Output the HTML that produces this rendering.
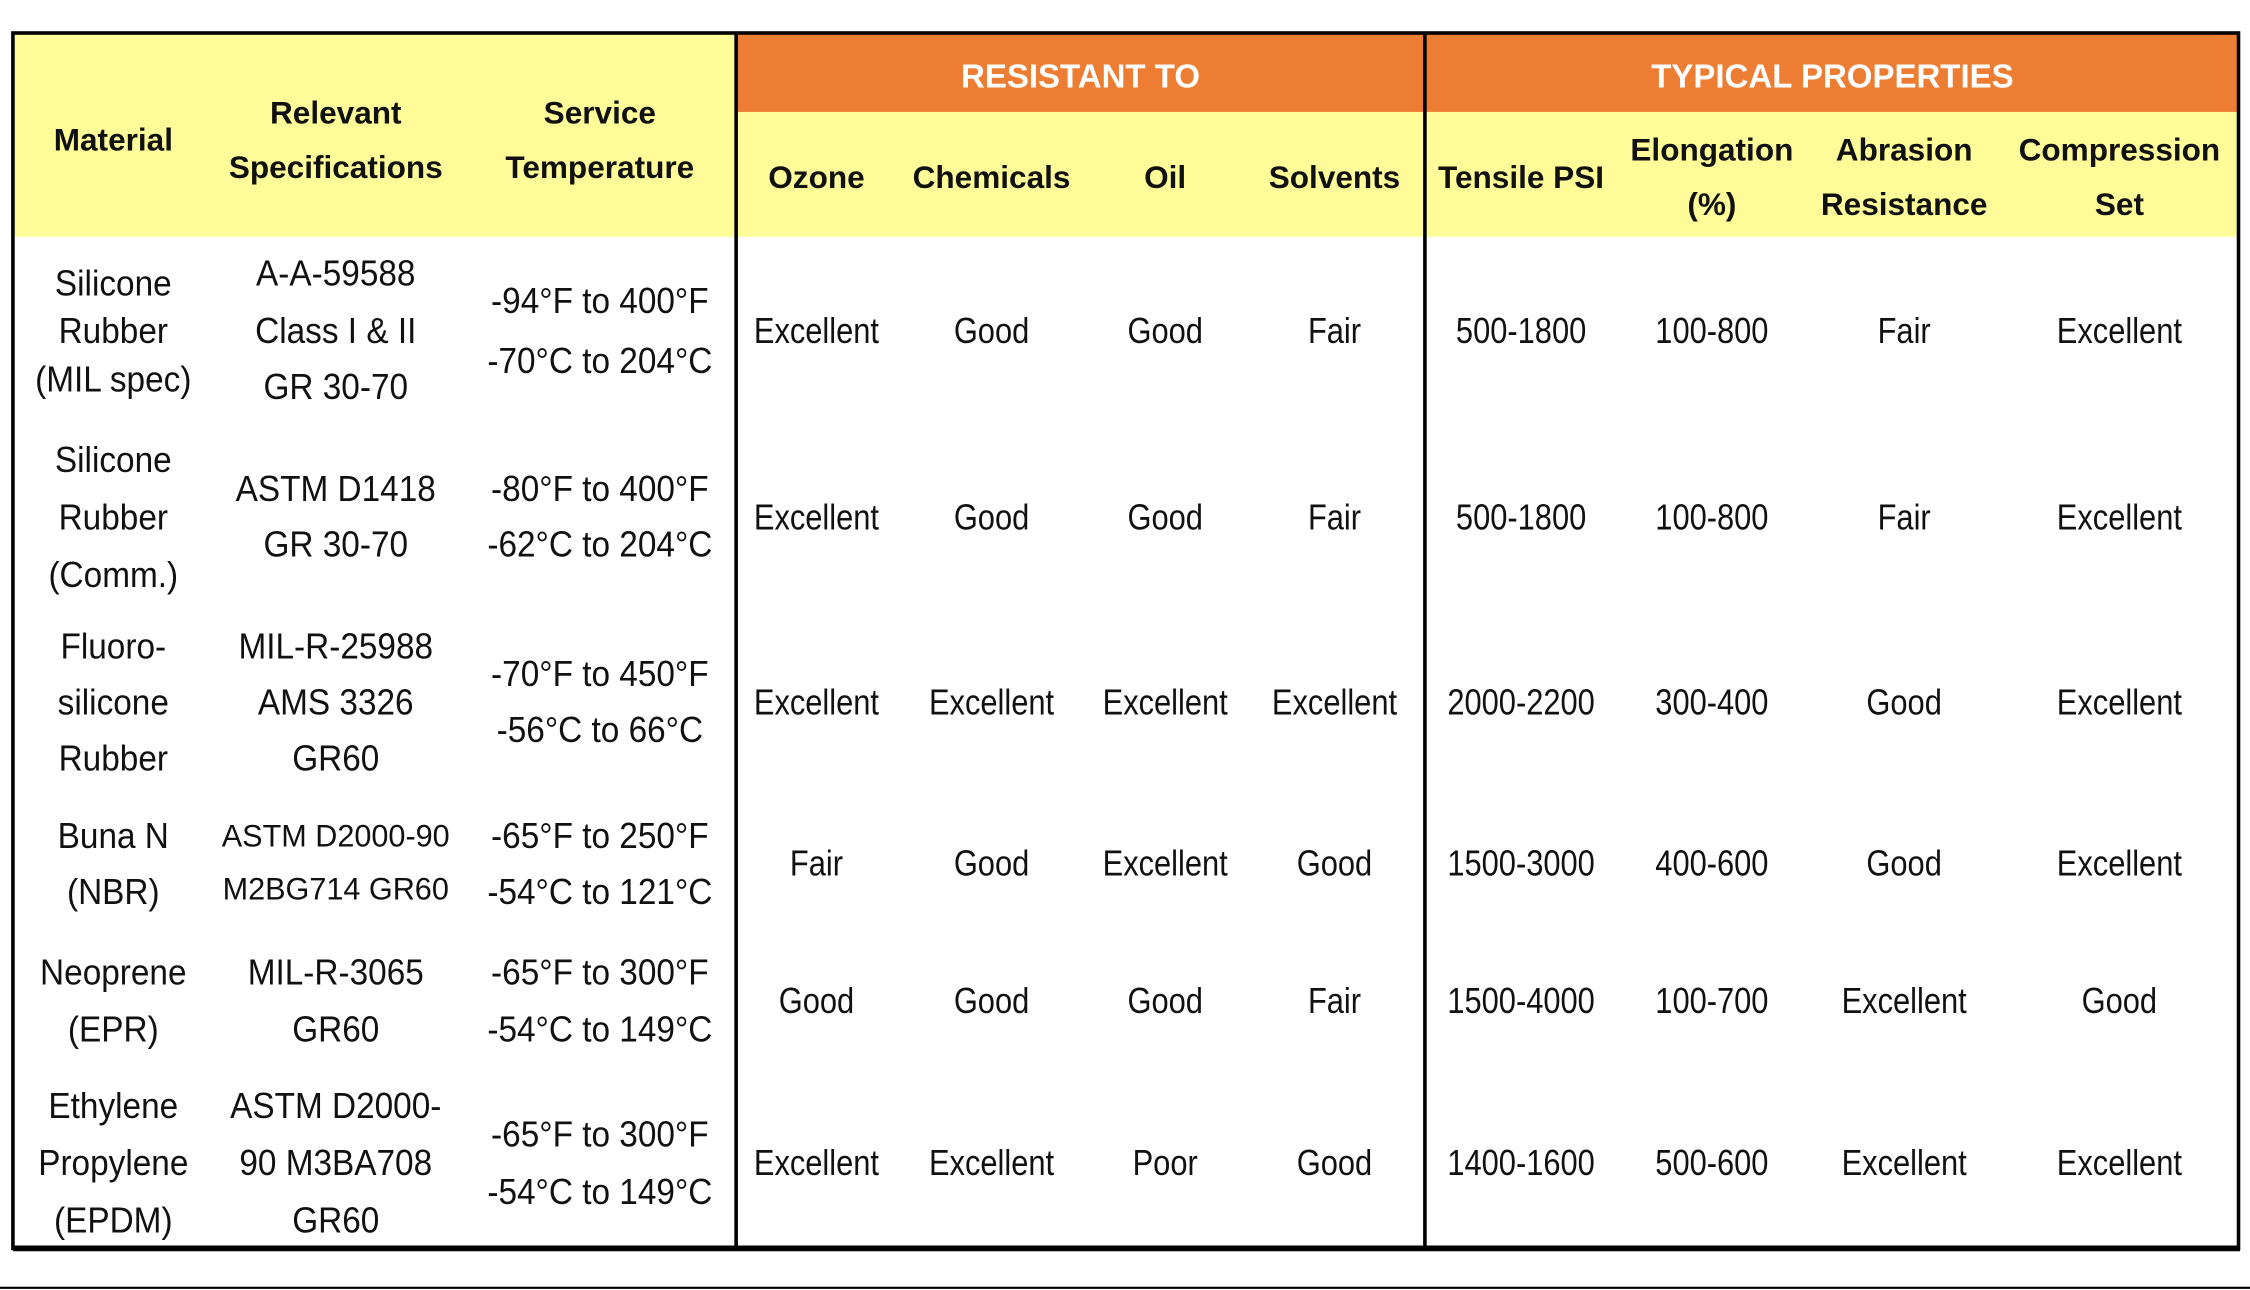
<!DOCTYPE html>
<html><head><meta charset="utf-8"><style>
html,body{margin:0;padding:0;background:#fff;}
svg{display:block;}
.h{font-family:"Liberation Sans",sans-serif;font-weight:bold;font-size:22px;fill:#111;}
.w{font-family:"Liberation Sans",sans-serif;font-weight:bold;font-size:23px;fill:#fff;}
.b{font-family:"Liberation Sans",sans-serif;font-size:25px;fill:#111;}
.s{font-family:"Liberation Sans",sans-serif;font-size:22px;fill:#111;}
</style></head><body>
<svg width="2250" height="1290" viewBox="0 0 1568 899" preserveAspectRatio="none" xmlns="http://www.w3.org/2000/svg">
<rect x="0" y="0" width="1568" height="899" fill="#fff"/>
<rect x="10" y="24" width="1550" height="141" fill="#fdfc98"/>
<rect x="514" y="24" width="479" height="54" fill="#ec7d33"/>
<rect x="994" y="24" width="566" height="54" fill="#ec7d33"/>
<rect x="9" y="23" width="1551" height="847" fill="none" stroke="#000" stroke-width="2.5"/>
<line x1="9" y1="870" x2="1561" y2="870" stroke="#000" stroke-width="4"/>
<line x1="513" y1="23" x2="513" y2="870" stroke="#000" stroke-width="2.5"/>
<line x1="993" y1="23" x2="993" y2="870" stroke="#000" stroke-width="2.5"/>
<line x1="0" y1="897.5" x2="1568" y2="897.5" stroke="#000" stroke-width="1.5"/>

<g text-anchor="middle">
<g class="w">
<text x="753" y="61">RESISTANT TO</text>
<text x="1277" y="61">TYPICAL PROPERTIES</text>
</g>
<g class="h">
<text x="79" y="105">Material</text>
<text x="234" y="86">Relevant</text>
<text x="234" y="124">Specifications</text>
<text x="418" y="86">Service</text>
<text x="418" y="124">Temperature</text>
<text x="569" y="131">Ozone</text>
<text x="691" y="131">Chemicals</text>
<text x="812" y="131">Oil</text>
<text x="930" y="131">Solvents</text>
<text x="1060" y="131">Tensile PSI</text>
<text x="1193" y="112">Elongation</text>
<text x="1193" y="150">(%)</text>
<text x="1327" y="112">Abrasion</text>
<text x="1327" y="150">Resistance</text>
<text x="1477" y="112">Compression</text>
<text x="1477" y="150">Set</text>
</g>

<g class="b" transform="scale(0.93 1)">
<text x="84.9" y="206">Silicone</text>
<text x="84.9" y="239">Rubber</text>
<text x="84.9" y="273">(MIL spec)</text>
<text x="251.6" y="199">A-A-59588</text>
<text x="251.6" y="239">Class I &amp; II</text>
<text x="251.6" y="278">GR 30-70</text>
<text x="449.5" y="218">-94°F to 400°F</text>
<text x="449.5" y="260">-70°C to 204°C</text>
<text x="84.9" y="329">Silicone</text>
<text x="84.9" y="369">Rubber</text>
<text x="84.9" y="409">(Comm.)</text>
<text x="251.6" y="349">ASTM D1418</text>
<text x="251.6" y="388">GR 30-70</text>
<text x="449.5" y="349">-80°F to 400°F</text>
<text x="449.5" y="388">-62°C to 204°C</text>
<text x="84.9" y="459">Fluoro-</text>
<text x="84.9" y="498">silicone</text>
<text x="84.9" y="537">Rubber</text>
<text x="251.6" y="459">MIL-R-25988</text>
<text x="251.6" y="498">AMS 3326</text>
<text x="251.6" y="537">GR60</text>
<text x="449.5" y="478">-70°F to 450°F</text>
<text x="449.5" y="517">-56°C to 66°C</text>
<text x="84.9" y="591">Buna N</text>
<text x="84.9" y="630">(NBR)</text>
<text x="449.5" y="591">-65°F to 250°F</text>
<text x="449.5" y="630">-54°C to 121°C</text>
<text x="84.9" y="686">Neoprene</text>
<text x="84.9" y="726">(EPR)</text>
<text x="251.6" y="686">MIL-R-3065</text>
<text x="251.6" y="726">GR60</text>
<text x="449.5" y="686">-65°F to 300°F</text>
<text x="449.5" y="726">-54°C to 149°C</text>
<text x="84.9" y="779">Ethylene</text>
<text x="84.9" y="819">Propylene</text>
<text x="84.9" y="859">(EPDM)</text>
<text x="251.6" y="779">ASTM D2000-</text>
<text x="251.6" y="819">90 M3BA708</text>
<text x="251.6" y="859">GR60</text>
<text x="449.5" y="799">-65°F to 300°F</text>
<text x="449.5" y="839">-54°C to 149°C</text>
</g>

<g class="b" transform="scale(0.86 1)">
<text x="661.6" y="239">Excellent</text>
<text x="803.5" y="239">Good</text>
<text x="944.2" y="239">Good</text>
<text x="1081.4" y="239">Fair</text>
<text x="1232.6" y="239">500-1800</text>
<text x="1387.2" y="239">100-800</text>
<text x="1543" y="239">Fair</text>
<text x="1717.4" y="239">Excellent</text>
<text x="661.6" y="369">Excellent</text>
<text x="803.5" y="369">Good</text>
<text x="944.2" y="369">Good</text>
<text x="1081.4" y="369">Fair</text>
<text x="1232.6" y="369">500-1800</text>
<text x="1387.2" y="369">100-800</text>
<text x="1543" y="369">Fair</text>
<text x="1717.4" y="369">Excellent</text>
<text x="661.6" y="498">Excellent</text>
<text x="803.5" y="498">Excellent</text>
<text x="944.2" y="498">Excellent</text>
<text x="1081.4" y="498">Excellent</text>
<text x="1232.6" y="498">2000-2200</text>
<text x="1387.2" y="498">300-400</text>
<text x="1543" y="498">Good</text>
<text x="1717.4" y="498">Excellent</text>
<text x="661.6" y="610">Fair</text>
<text x="803.5" y="610">Good</text>
<text x="944.2" y="610">Excellent</text>
<text x="1081.4" y="610">Good</text>
<text x="1232.6" y="610">1500-3000</text>
<text x="1387.2" y="610">400-600</text>
<text x="1543" y="610">Good</text>
<text x="1717.4" y="610">Excellent</text>
<text x="661.6" y="706">Good</text>
<text x="803.5" y="706">Good</text>
<text x="944.2" y="706">Good</text>
<text x="1081.4" y="706">Fair</text>
<text x="1232.6" y="706">1500-4000</text>
<text x="1387.2" y="706">100-700</text>
<text x="1543" y="706">Excellent</text>
<text x="1717.4" y="706">Good</text>
<text x="661.6" y="819">Excellent</text>
<text x="803.5" y="819">Excellent</text>
<text x="944.2" y="819">Poor</text>
<text x="1081.4" y="819">Good</text>
<text x="1232.6" y="819">1400-1600</text>
<text x="1387.2" y="819">500-600</text>
<text x="1543" y="819">Excellent</text>
<text x="1717.4" y="819">Excellent</text>
</g>
<g class="s" transform="scale(0.97 1)">
<text x="241.2" y="590">ASTM D2000-90</text>
<text x="241.2" y="627">M2BG714 GR60</text>
</g>
</g>
</svg>
</body></html>
